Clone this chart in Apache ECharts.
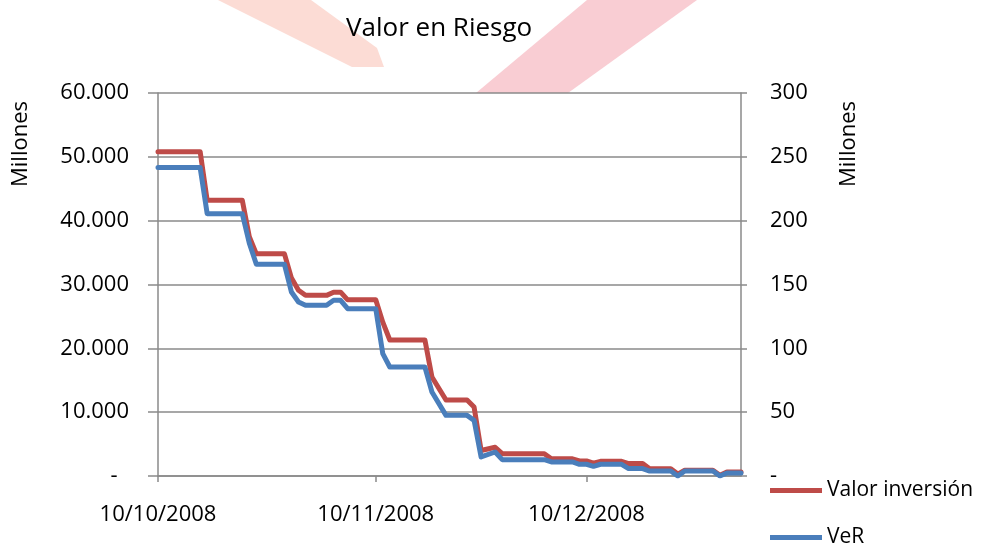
<!DOCTYPE html>
<html>
<head>
<meta charset="utf-8">
<script src="https://cdn.jsdelivr.net/npm/echarts@6/dist/echarts.min.js"></script>
<style>
  html, body { margin: 0; padding: 0; background: #fff; }
  #chart { width: 983px; height: 550px; }
</style>
</head>
<body>
<div id="chart"></div>
<script>
// fechas de los puntos (los mismos para las dos series)
const fechas = [
    '2008-10-10', '2008-10-16', '2008-10-17', '2008-10-22', '2008-10-23', '2008-10-24',
    '2008-10-28', '2008-10-29', '2008-10-30', '2008-10-31', '2008-11-03', '2008-11-04',
    '2008-11-05', '2008-11-06', '2008-11-10', '2008-11-11', '2008-11-12', '2008-11-17',
    '2008-11-18', '2008-11-20', '2008-11-23', '2008-11-24', '2008-11-25', '2008-11-27',
    '2008-11-28', '2008-12-04', '2008-12-05', '2008-12-08', '2008-12-09', '2008-12-10',
    '2008-12-11', '2008-12-12', '2008-12-15', '2008-12-16', '2008-12-18', '2008-12-19',
    '2008-12-22', '2008-12-23', '2008-12-24', '2008-12-28', '2008-12-29', '2008-12-30',
    '2009-01-01'
];

// Valor inversión (millones, eje izquierdo)
const valorInversion = [
    50800, 50800, 43200, 43200, 37500, 34800,
    34800, 31000, 29100, 28300, 28300, 28800,
    28800, 27600, 27600, 24100, 21300, 21300,
    15500, 11900, 11900, 10800, 4000, 4500,
    3500, 3500, 2700, 2700, 2350, 2350,
    2000, 2300, 2300, 1950, 1950, 1150,
    1150, 300, 900, 900, 100, 630,
    630
];

// VeR (millones, eje derecho)
const ver = [
    241.6, 241.6, 205.5, 205.5, 182.3, 165.8,
    165.8, 144.1, 136.3, 133.7, 133.7, 137.6,
    137.6, 131.1, 131.1, 95.9, 85.4, 85.4,
    65.8, 47.5, 47.5, 43.6, 14.9, 18.8,
    12.8, 12.8, 11.0, 11.0, 9.2, 9.2,
    7.6, 9.2, 9.2, 5.8, 5.8, 3.9,
    3.9, 0, 3.9, 3.9, 0, 2.3,
    2.3
];

const etiquetasX = ['2008-10-10', '2008-11-10', '2008-12-10'];
const fechaMin = '2008-10-10';
const fechaMax = '2009-01-01';

function aFecha(s) {
    return new Date(s + 'T00:00:00').getTime();
}

function dosDigitos(n) {
    return (n < 10 ? '0' : '') + n;
}

const fuente = '"Open Sans", "Liberation Sans", sans-serif';
const gris = '#8a8a8a';

const chart = echarts.init(document.getElementById('chart'));

// una leyenda por serie, una debajo de otra
function leyenda(nombre, top) {
    return {
        orient: 'vertical',
        left: 770,
        top: top,
        padding: 0,
        itemWidth: 52,
        itemHeight: 5,
        icon: 'rect',
        data: [nombre],
        textStyle: { fontFamily: fuente, fontSize: 21, color: '#000' }
    };
}

const option = {
    animation: false,
    backgroundColor: '#fff',
    textStyle: { fontFamily: fuente },
    title: {
        text: 'Valor en Riesgo',
        left: 341,
        top: 11,
        textStyle: { fontFamily: fuente, fontSize: 26, fontWeight: 'normal', color: '#000' }
    },
    // marca de agua de fondo
    graphic: [
        {
            type: 'polygon',
            z: -10,
            shape: { points: [[218, 0], [311, 0], [377, 48], [384, 67], [352, 67]] },
            style: { fill: '#fcdcd5' }
        },
        {
            type: 'polygon',
            z: -10,
            shape: { points: [[587, 0], [697, 0], [568, 93], [476, 93]] },
            style: { fill: '#f9cdd3' }
        },
        {
            type: 'text',
            x: 21,
            y: 144,
            rotation: Math.PI / 2,
            style: {
                text: 'Millones', font: '22px ' + fuente, fill: '#000',
                align: 'center', verticalAlign: 'middle'
            }
        },
        {
            type: 'text',
            x: 849,
            y: 144,
            rotation: Math.PI / 2,
            style: {
                text: 'Millones', font: '22px ' + fuente, fill: '#000',
                align: 'center', verticalAlign: 'middle'
            }
        }
    ],
    legend: [leyenda('Valor inversión', 480), leyenda('VeR', 527)],
    grid: {
        left: 158,
        right: 242,
        top: 93,
        bottom: 74,
        show: true,
        backgroundColor: '#fff',
        borderWidth: 0
    },
    xAxis: {
        type: 'value',
        min: aFecha(fechaMin),
        max: aFecha(fechaMax),
        axisLine: { lineStyle: { color: gris, width: 1.5 } },
        axisTick: {
            show: true,
            length: 6,
            customValues: etiquetasX.map(aFecha),
            lineStyle: { color: gris, width: 1.5 }
        },
        axisLabel: {
            customValues: etiquetasX.map(aFecha),
            margin: 28,
            fontSize: 22,
            color: '#000',
            fontFamily: fuente,
            formatter: function (v) {
                const d = new Date(v);
                return dosDigitos(d.getDate()) + '/' + dosDigitos(d.getMonth() + 1) + '/' + d.getFullYear();
            }
        },
        splitLine: { show: false }
    },
    yAxis: [
        {
            type: 'value',
            min: 0,
            max: 60000,
            interval: 10000,
            axisLine: { show: true, lineStyle: { color: gris, width: 1.5 } },
            axisTick: { show: true, length: 10, lineStyle: { color: gris, width: 1.5 } },
            axisLabel: {
                margin: 29,
                fontSize: 22,
                color: '#000',
                fontFamily: fuente,
                formatter: function (v) {
                    return v === 0 ? '-  ' : (v / 1000) + '.000';
                }
            },
            splitLine: { show: true, lineStyle: { color: gris, width: 1.5 } }
        },
        {
            type: 'value',
            min: 0,
            max: 300,
            interval: 50,
            axisLine: { show: true, lineStyle: { color: gris, width: 1.5 } },
            axisTick: { show: true, length: 6, lineStyle: { color: gris, width: 1.5 } },
            axisLabel: {
                margin: 29,
                fontSize: 22,
                color: '#000',
                fontFamily: fuente,
                formatter: function (v) {
                    return v === 0 ? '-' : String(v);
                }
            },
            splitLine: { show: false }
        }
    ],
    series: [
        {
            name: 'Valor inversión',
            type: 'line',
            yAxisIndex: 0,
            showSymbol: false,
            color: '#be4b48',
            lineStyle: { width: 5, color: '#be4b48', cap: 'round', join: 'round' },
            data: fechas.map((f, i) => [aFecha(f), valorInversion[i]])
        },
        {
            name: 'VeR',
            type: 'line',
            yAxisIndex: 1,
            showSymbol: false,
            color: '#4a7ebb',
            lineStyle: { width: 5, color: '#4a7ebb', cap: 'round', join: 'round' },
            data: fechas.map((f, i) => [aFecha(f), ver[i]])
        }
    ]
};

chart.setOption(option);
</script>
</body>
</html>
